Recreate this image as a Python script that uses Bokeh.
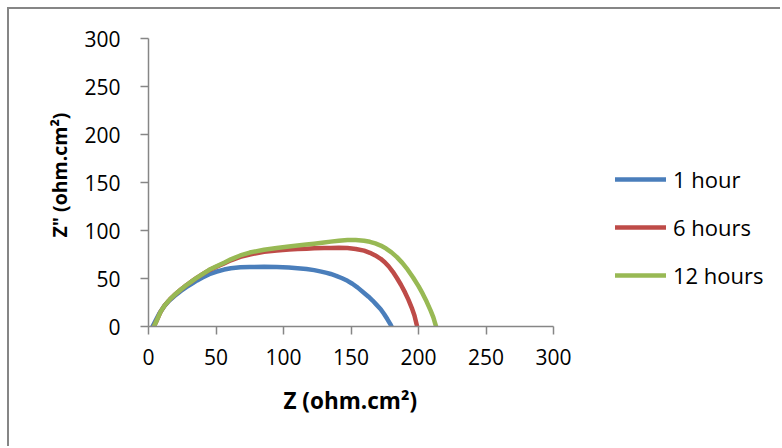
from bokeh.plotting import figure
from bokeh.models import Legend, LegendItem, FixedTicker, Range1d, Title
from bokeh.embed import file_html
from bokeh.resources import INLINE

# ---- data ----
z_1h = [3, 5, 8, 11.6, 15, 19, 24, 28, 32, 36, 40, 45, 50, 56, 61, 68, 75, 85.6, 95, 104,
        110.4, 117, 122.7, 128, 132, 135, 139, 143, 147.4, 151, 155, 159.7, 163, 166, 169,
        172, 174.5, 177, 179, 180]
zi_1h = [0, 5.5, 13.5, 21, 26.5, 31.5, 37, 41, 44.5, 48, 51, 54.5, 57, 59.3, 60.7, 61.6, 62,
         62.2, 62, 61.5, 60.8, 59.9, 58.7, 57.2, 55.9, 54.7, 52.8, 50.5, 47.6, 44.5, 40.5, 35,
         31, 27, 22.5, 18, 13, 7.5, 2.8, 0]

z_6h = [4, 6, 9, 12, 16, 19, 24, 28, 32, 36, 40, 45, 50, 56, 61, 68, 75, 85.6, 95, 104, 110.4,
        117, 122.7, 130, 135, 141, 147.4, 153.5, 159.7, 164, 168, 172, 175, 178, 181, 184, 187,
        190, 192.5, 195, 197, 199]
zi_6h = [0, 6, 15.5, 22, 28.5, 32.5, 38.5, 43, 47, 51, 54.5, 58.7, 62, 65.8, 69, 72.5, 75, 77.8,
         79.2, 80.2, 80.7, 81.1, 81.4, 81.7, 81.9, 82, 81.7, 80.8, 79, 76.8, 74, 70.5, 67, 62.5,
         57, 50.5, 43.5, 35.5, 28, 19.5, 11.5, 0]

z_12h = [4, 6, 9, 12, 16, 19, 24, 28, 32, 36, 40, 45, 50, 56, 61, 68, 75, 85.6, 95, 104, 110.4,
         117, 122.7, 130, 135, 141, 147.4, 153.5, 159.7, 164, 168, 172, 176, 180, 184, 188, 192,
         196, 200, 203, 206, 209, 211, 213]
zi_12h = [0, 6, 15.5, 22, 28.5, 32.5, 38.5, 43, 47, 51, 54.5, 59, 62.5, 66.5, 70, 74, 77, 80,
          81.8, 83.3, 84.3, 85.3, 86.3, 87.6, 88.4, 89.3, 90, 90, 89.3, 88.2, 86.5, 84.3, 81.2,
          77.2, 72.3, 66.3, 59.2, 51, 42, 34.5, 26, 16.5, 9.5, 0]

series_names = ["1 hour", "6 hours", "12 hours"]
series_colors = ["#4A7EBB", "#BE4B48", "#98B954"]
ticks = [0, 50, 100, 150, 200, 250, 300]
x_title = "Z (ohm.cm²)"
y_title = 'Z" (ohm.cm²)'

FONT = "Open Sans"
AXIS_COLOR = "#868686"

# plot area: 0..300 spans 405 px; frame is extended to the right to hold the legend
FRAME_W = 773 - 139
X_MAX = 300.0 * FRAME_W / 405.0

p = figure(width=773, height=439, output_backend="svg", toolbar_location=None,
           x_range=Range1d(0, X_MAX), y_range=Range1d(0, 300),
           min_border_left=139, min_border_right=0, min_border_top=29, min_border_bottom=122)
p.styles = {"margin-left": "7px", "margin-top": "7px",
            "border-left": "2px solid #868686", "border-top": "2px solid #868686"}
p.outline_line_color = None
p.xgrid.visible = False
p.ygrid.visible = False
p.background_fill_color = "white"
p.border_fill_color = "white"

renderers = []
for xs, ys, c in [(z_1h, zi_1h, series_colors[0]), (z_6h, zi_6h, series_colors[1]),
                  (z_12h, zi_12h, series_colors[2])]:
    r = p.line(xs, ys, line_color=c, line_width=4.5, line_join="round", line_cap="round")
    renderers.append(r)

for ax in (p.xaxis[0], p.yaxis[0]):
    ax.ticker = FixedTicker(ticks=ticks)
    ax.axis_line_color = AXIS_COLOR
    ax.axis_line_width = 1.5
    ax.major_tick_line_color = AXIS_COLOR
    ax.major_tick_line_width = 1.5
    ax.major_tick_in = 0
    ax.major_tick_out = 8
    ax.minor_tick_line_color = None
    ax.major_label_text_font = FONT
    ax.major_label_text_font_size = "21px"
    ax.major_label_text_color = "black"

p.xaxis[0].bounds = (0, 300)
p.xaxis[0].major_label_standoff = 14
p.yaxis[0].major_label_standoff = 20

xt = Title(text=x_title, align="left", offset=135, standoff=30,
           text_font=FONT, text_font_size="22.5px", text_font_style="bold",
           text_color="black")
p.add_layout(xt, "below")

yt = Title(text=y_title, align="left", offset=89, standoff=18,
           text_font=FONT, text_font_size="19.5px", text_font_style="bold",
           text_color="black")
p.add_layout(yt, "left")

legend = Legend(items=[LegendItem(label=n, renderers=[r]) for n, r in zip(series_names, renderers)],
                location=(467, 35), border_line_color=None, background_fill_alpha=0,
                padding=0, margin=0, glyph_width=51, glyph_height=32, label_height=32,
                label_standoff=7, spacing=16, label_text_font=FONT,
                label_text_font_size="22px", label_text_color="black")
p.add_layout(legend)

open("out.html", "w").write(file_html(p, INLINE))
